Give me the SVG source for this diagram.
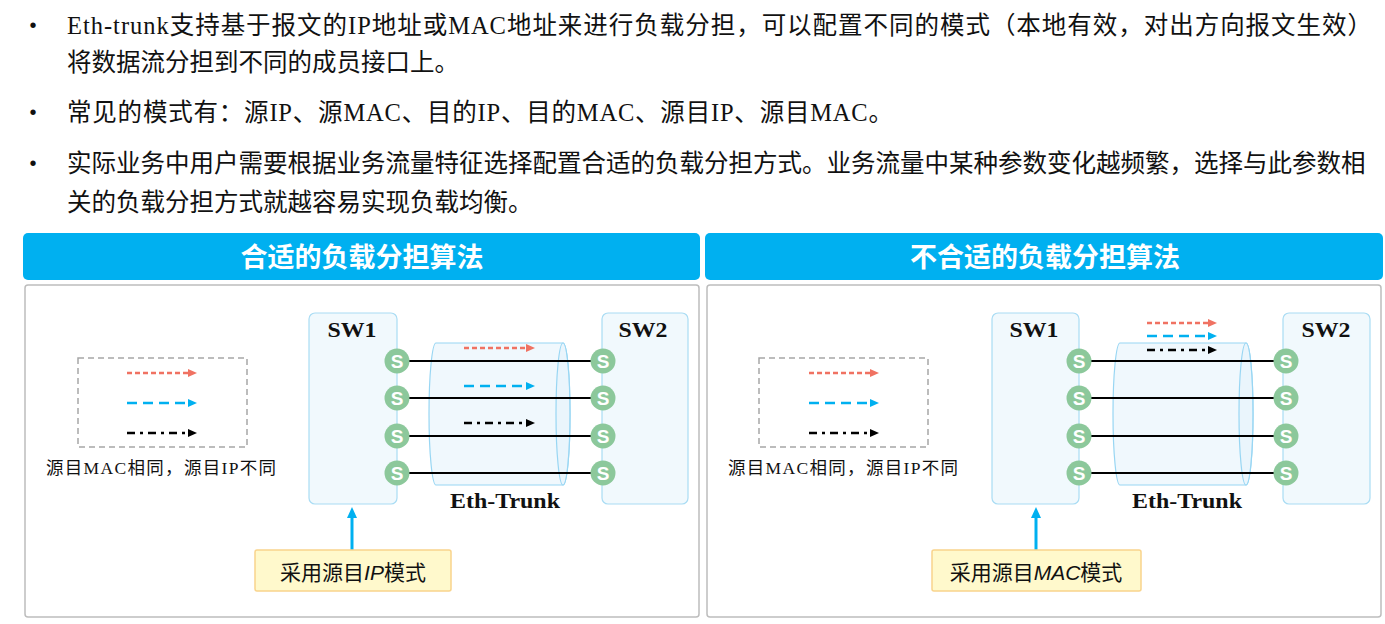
<svg xmlns="http://www.w3.org/2000/svg" width="1385" height="624" viewBox="0 0 1385 624">
<style>
.body{font-family:"Liberation Serif","Noto Sans CJK SC",serif;font-size:24.5px;fill:#111}
.bul{font-family:"Liberation Sans",sans-serif;font-size:20px;fill:#111}
.hdr{fill:#00B0F0}
.hdrt{font-family:"Noto Sans CJK SC",sans-serif;font-size:27px;font-weight:bold;fill:#fff;text-anchor:middle}
.panel{fill:#fff;stroke:#bdbdbd;stroke-width:1.5}
.sw{fill:#f1f9fd;stroke:#a9dcf4;stroke-width:1.2}
.swt{font-family:"Liberation Serif",serif;font-size:21px;font-weight:bold;fill:#111;text-anchor:middle}
.cyl{fill:#e6f4fb;fill-opacity:0.6;stroke:#98d6f3;stroke-width:1.2}
.link{stroke:#000;stroke-width:2}
.port{fill:#8cc89b}
.pt{font-family:"Liberation Sans",sans-serif;font-size:19px;font-weight:bold;fill:#fff;text-anchor:middle}
.leg{fill:none;stroke:#a6a6a6;stroke-width:1.5;stroke-dasharray:6 4}
.legt{font-family:"Liberation Serif","Noto Sans CJK SC",serif;font-size:17.5px;fill:#111;text-anchor:middle}
.red{stroke:#f07262;stroke-width:2.4;stroke-dasharray:5 3;fill:none}
.blue{stroke:#00b0f0;stroke-width:2.6;stroke-dasharray:10 6;fill:none}
.blk{stroke:#000;stroke-width:2.6;stroke-dasharray:8 5 3 5;fill:none}
.eth{font-family:"Liberation Serif",serif;font-size:21px;font-weight:bold;fill:#111;text-anchor:middle}
.up{stroke:#00b0f0;stroke-width:3;fill:none}
.note{fill:#fff9cc;stroke:#f9d48c;stroke-width:1.5}
.notet{font-family:"Noto Sans CJK SC",sans-serif;font-size:21px;fill:#111;text-anchor:middle}
.it{font-family:"Liberation Sans",sans-serif;font-style:italic}
</style>
<defs>
<marker id="mr" markerWidth="10" markerHeight="10" refX="0" refY="5" orient="auto" markerUnits="userSpaceOnUse"><path d="M0,1 L9,5 L0,9 Z" fill="#f07262"/></marker>
<marker id="mb" markerWidth="10" markerHeight="10" refX="0" refY="5" orient="auto" markerUnits="userSpaceOnUse"><path d="M0,1 L9,5 L0,9 Z" fill="#00b0f0"/></marker>
<marker id="mk" markerWidth="10" markerHeight="10" refX="0" refY="5" orient="auto" markerUnits="userSpaceOnUse"><path d="M0,1 L9,5 L0,9 Z" fill="#000"/></marker>
<marker id="mu" markerWidth="12" markerHeight="12" refX="1" refY="6" orient="auto" markerUnits="userSpaceOnUse"><path d="M0,1 L11,6 L0,11 Z" fill="#00b0f0"/></marker>
</defs>

<g id="text">
<text class="bul" x="33" y="32" text-anchor="middle">•</text>
<text class="body" x="67" y="34" textLength="1305" lengthAdjust="spacing">Eth-trunk支持基于报文的IP地址或MAC地址来进行负载分担，可以配置不同的模式（本地有效，对出方向报文生效）</text>
<text class="body" x="67" y="71">将数据流分担到不同的成员接口上。</text>
<text class="bul" x="33" y="119" text-anchor="middle">•</text>
<text class="body" x="67" y="121" textLength="826" lengthAdjust="spacing">常见的模式有：源IP、源MAC、目的IP、目的MAC、源目IP、源目MAC。</text>
<text class="bul" x="33" y="170" text-anchor="middle">•</text>
<text class="body" x="67" y="172">实际业务中用户需要根据业务流量特征选择配置合适的负载分担方式。业务流量中某种参数变化越频繁，选择与此参数相</text>
<text class="body" x="67" y="211">关的负载分担方式就越容易实现负载均衡。</text>
</g>

<g id="left-header">
<rect class="hdr" x="23" y="233" width="677" height="47" rx="5"/>
<text class="hdrt" x="362" y="267">合适的负载分担算法</text>
</g>
<g id="right-header">
<rect class="hdr" x="705" y="233" width="678" height="47" rx="5"/>
<text class="hdrt" x="1045" y="267">不合适的负载分担算法</text>
</g>

<g id="left-panel-frame"><rect class="panel" x="25" y="285" width="674" height="332" rx="3"/></g>
<g id="right-panel-frame"><rect class="panel" x="707" y="285" width="674" height="332" rx="3"/></g>

<!-- LEFT PANEL -->
<g id="left-legend">
<rect class="leg" x="78" y="358" width="169" height="89"/>
<line class="red" x1="127" y1="373" x2="188" y2="373" marker-end="url(#mr)"/>
<line class="blue" x1="127" y1="403" x2="188" y2="403" marker-end="url(#mb)"/>
<line class="blk" x1="127" y1="433" x2="188" y2="433" marker-end="url(#mk)"/>
<text class="legt" x="161" y="474" textLength="230" lengthAdjust="spacing">源目MAC相同，源目IP不同</text>
</g>
<g id="left-sw1">
<rect class="sw" x="309" y="313" width="88" height="191" rx="6"/>
<text class="swt" x="352" y="337" textLength="49" lengthAdjust="spacingAndGlyphs">SW1</text>
</g>
<g id="left-sw2">
<rect class="sw" x="602" y="313" width="86" height="191" rx="6"/>
<text class="swt" x="643" y="337" textLength="49" lengthAdjust="spacingAndGlyphs">SW2</text>
</g>
<g id="left-eth-trunk">
<path class="cyl" d="M436,343 L563,343 A7,71 0 0 1 563,485 L436,485 A7,71 0 0 1 436,343 Z"/>
<ellipse class="cyl" cx="563" cy="414" rx="7" ry="71" fill="none"/>
<text class="eth" x="505" y="508" textLength="110" lengthAdjust="spacingAndGlyphs">Eth-Trunk</text>
</g>
<g id="left-connectors">
<line class="link" x1="397" y1="361" x2="603" y2="361"/>
<line class="link" x1="397" y1="398" x2="603" y2="398"/>
<line class="link" x1="397" y1="436" x2="603" y2="436"/>
<line class="link" x1="397" y1="473" x2="603" y2="473"/>
<line class="red" x1="464" y1="348" x2="526" y2="348" marker-end="url(#mr)"/>
<line class="blue" x1="464" y1="386" x2="526" y2="386" marker-end="url(#mb)"/>
<line class="blk" x1="464" y1="423" x2="526" y2="423" marker-end="url(#mk)"/>
<line class="up" x1="352" y1="550" x2="352" y2="517" marker-end="url(#mu)"/>
</g>
<g id="left-ports">
<circle class="port" cx="397" cy="361" r="12.5"/><text class="pt" x="397" y="368">S</text>
<circle class="port" cx="397" cy="398" r="12.5"/><text class="pt" x="397" y="405">S</text>
<circle class="port" cx="397" cy="436" r="12.5"/><text class="pt" x="397" y="443">S</text>
<circle class="port" cx="397" cy="473" r="12.5"/><text class="pt" x="397" y="480">S</text>
<circle class="port" cx="603" cy="361" r="12.5"/><text class="pt" x="603" y="368">S</text>
<circle class="port" cx="603" cy="398" r="12.5"/><text class="pt" x="603" y="405">S</text>
<circle class="port" cx="603" cy="436" r="12.5"/><text class="pt" x="603" y="443">S</text>
<circle class="port" cx="603" cy="473" r="12.5"/><text class="pt" x="603" y="480">S</text>
</g>
<g id="left-note">
<rect class="note" x="255" y="550" width="196" height="41" rx="2"/>
<text class="notet" x="353" y="580">采用源目<tspan class="it">IP</tspan>模式</text>
</g>

<!-- RIGHT PANEL -->
<g id="right-legend">
<rect class="leg" x="759" y="358" width="169" height="89"/>
<line class="red" x1="809" y1="373" x2="870" y2="373" marker-end="url(#mr)"/>
<line class="blue" x1="809" y1="403" x2="870" y2="403" marker-end="url(#mb)"/>
<line class="blk" x1="809" y1="433" x2="870" y2="433" marker-end="url(#mk)"/>
<text class="legt" x="843" y="474" textLength="230" lengthAdjust="spacing">源目MAC相同，源目IP不同</text>
</g>
<g id="right-sw1">
<rect class="sw" x="992" y="313" width="87" height="191" rx="6"/>
<text class="swt" x="1034" y="337" textLength="49" lengthAdjust="spacingAndGlyphs">SW1</text>
</g>
<g id="right-sw2">
<rect class="sw" x="1283" y="313" width="87" height="191" rx="6"/>
<text class="swt" x="1326" y="337" textLength="49" lengthAdjust="spacingAndGlyphs">SW2</text>
</g>
<g id="right-eth-trunk">
<path class="cyl" d="M1120,343 L1246,343 A7,71 0 0 1 1246,485 L1120,485 A7,71 0 0 1 1120,343 Z"/>
<ellipse class="cyl" cx="1246" cy="414" rx="7" ry="71" fill="none"/>
<text class="eth" x="1187" y="508" textLength="110" lengthAdjust="spacingAndGlyphs">Eth-Trunk</text>
</g>
<g id="right-connectors">
<line class="link" x1="1079" y1="361" x2="1286" y2="361"/>
<line class="link" x1="1079" y1="398" x2="1286" y2="398"/>
<line class="link" x1="1079" y1="436" x2="1286" y2="436"/>
<line class="link" x1="1079" y1="473" x2="1286" y2="473"/>
<line class="red" x1="1147" y1="323" x2="1208" y2="323" marker-end="url(#mr)"/>
<line class="blue" x1="1147" y1="336" x2="1208" y2="336" marker-end="url(#mb)"/>
<line class="blk" x1="1147" y1="350" x2="1208" y2="350" marker-end="url(#mk)"/>
<line class="up" x1="1036" y1="550" x2="1036" y2="517" marker-end="url(#mu)"/>
</g>
<g id="right-ports">
<circle class="port" cx="1079" cy="361" r="12.5"/><text class="pt" x="1079" y="368">S</text>
<circle class="port" cx="1079" cy="398" r="12.5"/><text class="pt" x="1079" y="405">S</text>
<circle class="port" cx="1079" cy="436" r="12.5"/><text class="pt" x="1079" y="443">S</text>
<circle class="port" cx="1079" cy="473" r="12.5"/><text class="pt" x="1079" y="480">S</text>
<circle class="port" cx="1286" cy="361" r="12.5"/><text class="pt" x="1286" y="368">S</text>
<circle class="port" cx="1286" cy="398" r="12.5"/><text class="pt" x="1286" y="405">S</text>
<circle class="port" cx="1286" cy="436" r="12.5"/><text class="pt" x="1286" y="443">S</text>
<circle class="port" cx="1286" cy="473" r="12.5"/><text class="pt" x="1286" y="480">S</text>
</g>
<g id="right-note">
<rect class="note" x="932" y="550" width="209" height="41" rx="2"/>
<text class="notet" x="1036" y="580">采用源目<tspan class="it">MAC</tspan>模式</text>
</g>
</svg>
